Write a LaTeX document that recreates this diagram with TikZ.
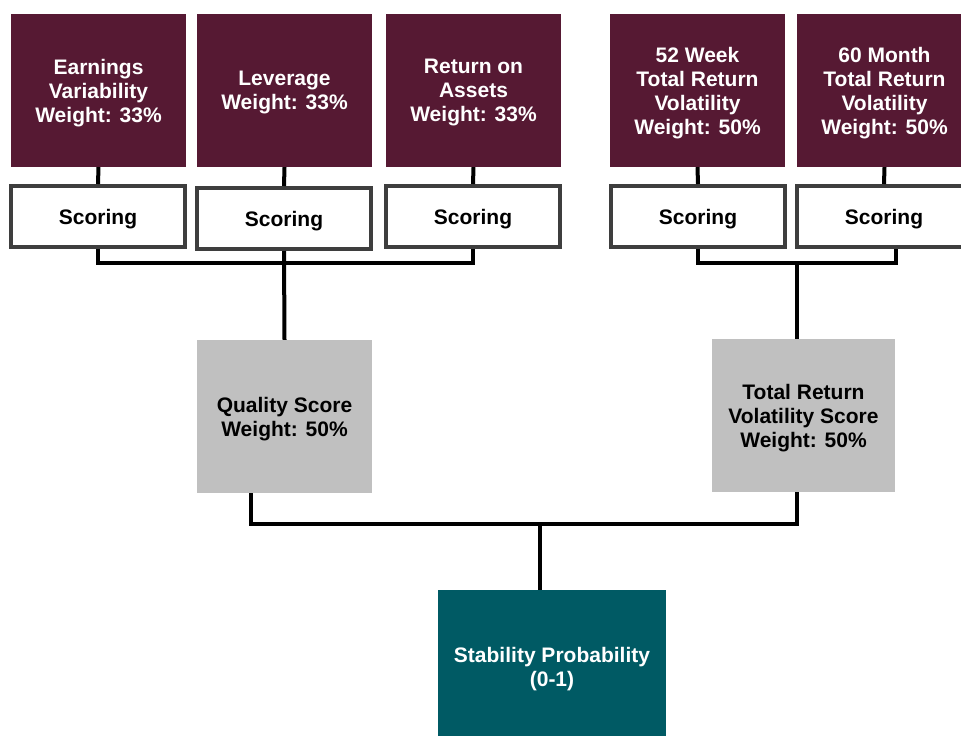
\documentclass[tikz,border=0pt]{standalone}
\usepackage{fontspec}
\setmainfont{Liberation Sans}
\usepackage{xcolor}
\usepackage{tikz}
\definecolor{maroon}{RGB}{86,25,51}
\definecolor{tealbox}{RGB}{0,90,100}
\definecolor{greybox}{RGB}{192,192,192}
\definecolor{borderdark}{RGB}{62,62,62}

\begin{document}
\begin{tikzpicture}[x=1pt, y=-1pt,
		boxtext/.style={align=center, inner sep=0pt, text depth=-3.5pt, font=\bfseries\fontsize{21}{24}\selectfont},
		factor/.style={boxtext, fill=maroon, text=white, minimum width=175pt, minimum height=153pt},
		scoring/.style={boxtext, draw=borderdark, line width=4pt, fill=white, minimum width=174pt, minimum height=61pt},
		score/.style={boxtext, fill=greybox, text=black, minimum height=153pt},
		result/.style={boxtext, fill=tealbox, text=white, minimum width=228pt, minimum height=153pt},
		link/.style={draw=black, line width=4pt}]
		\useasboundingbox (0,0) rectangle (961,736);

		% top row: factors
		\node[factor] (earn) at (98.5,90.5) {Earnings\\Variability\\Weight: 33\%};
		\node[factor] (lev) at (284.5,90.5) {Leverage\\Weight: 33\%};
		\node[factor] (roa) at (473.5,90.5) {Return on\\Assets\\Weight: 33\%};
		\node[factor] (wk) at (697.5,90.5) {52 Week\\Total Return\\Volatility\\Weight: 50\%};
		\node[factor] (mo) at (884.5,90.5) {60 Month\\Total Return\\Volatility\\Weight: 50\%};

		% scoring
		\node[scoring] (s1) at (98,216.5) {Scoring};
		\node[scoring] (s2) at (284,218.5) {Scoring};
		\node[scoring] (s3) at (473,216.5) {Scoring};
		\node[scoring] (s4) at (698,216.5) {Scoring};
		\node[scoring] (s5) at (884,216.5) {Scoring};

		\draw[link] (earn.south) -- (s1.north);
		\draw[link] (lev.south) -- (s2.north);
		\draw[link] (roa.south) -- (s3.north);
		\draw[link] (wk.south) -- (s4.north);
		\draw[link] (mo.south) -- (s5.north);

		% scores
		\node[score, minimum width=175pt] (qual) at (284.5,416.5) {Quality Score\\Weight: 50\%};
		\node[score, minimum width=183pt] (trv) at (803.5,415.5) {Total Return\\Volatility Score\\Weight: 50\%};

		\draw[link] (s1.south) -- ++(0,14) -| (s3.south);
		\draw[link] (s2.south) -- (qual.north);
		\draw[link] (s4.south) -- ++(0,14) -| ([xshift=12pt]s5.south);
		\draw[link] ([xshift=-6.5pt]trv.north) -- ++(0,-76);

		% result
		\node[result] (prob) at (552,666.5) {Stability Probability\\(0-1)};

		\draw[link] ([xshift=-34pt]qual.south) -- ++(0,31) -| ([xshift=-6.5pt]trv.south);
		\draw[link] ([xshift=-12pt]prob.north) -- ++(0,-66);
\end{tikzpicture}
\end{document}
